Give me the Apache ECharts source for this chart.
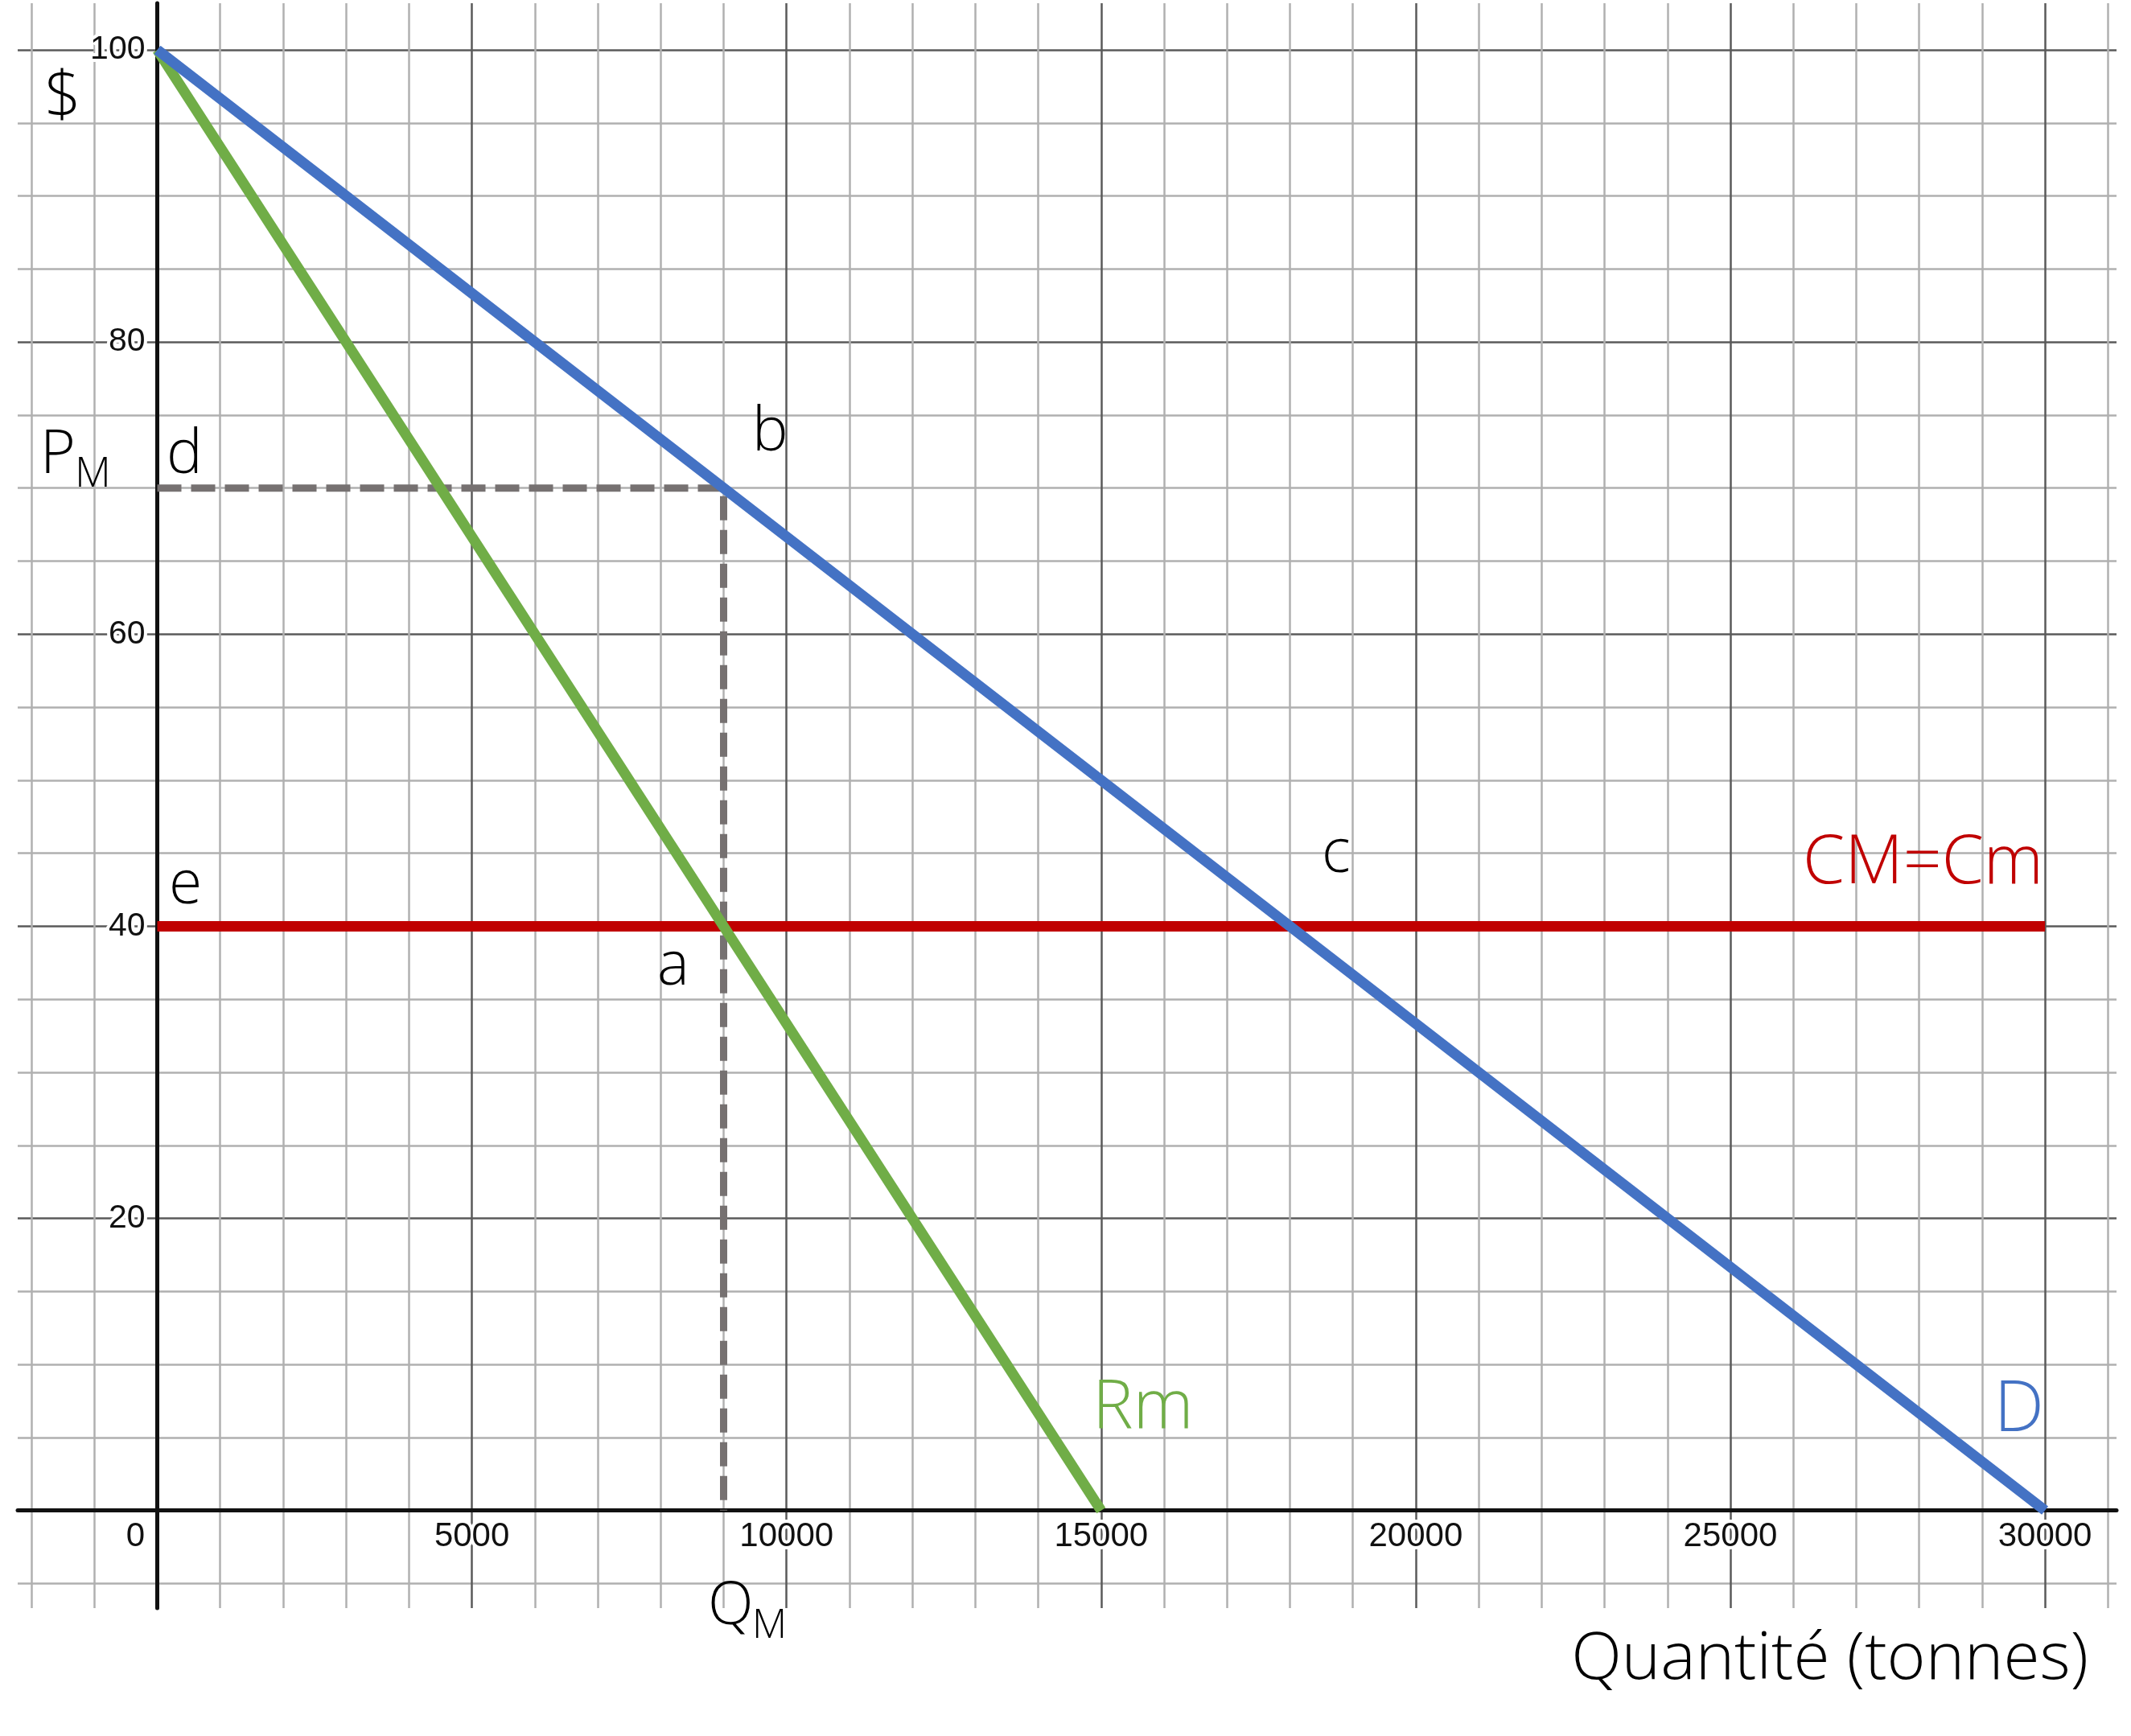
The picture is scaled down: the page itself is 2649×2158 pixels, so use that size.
<!DOCTYPE html>
<html>
<head>
<meta charset="utf-8">
<script src="https://cdn.jsdelivr.net/npm/echarts@6/dist/echarts.min.js"></script>
<style>
html,body{margin:0;padding:0;background:#fff;}
#chart{width:2649px;height:2158px;}
</style>
</head>
<body>
<div id="chart"></div>
<script>
// ---- data ----
const demandX = [0, 30000];
const demandY = [100, 0];
const rmX = [0, 15000];
const rmY = [100, 0];
const cmX = [0, 30000];
const cmY = [40, 40];
const guideX = [0, 9000, 9000];
const guideY = [70, 70, 0];
const xTickLabels = [0, 5000, 10000, 15000, 20000, 25000, 30000];
const yTickLabels = [20, 40, 60, 80, 100];

const zip = (xs, ys) => xs.map((x, i) => [x, ys[i]]);

const MINOR = '#b0b0b0';
const MAJOR = '#5a5a5a';
const FONT = '"Open Sans", sans-serif';
const TICKFONT = '"Liberation Sans", Arial, sans-serif';

const chart = echarts.init(document.getElementById('chart'));

function txt(text, x, y, size, color, align) {
  return {
    type: 'text', x: x, y: y, silent: true, z: 100,
    style: {
      text: text, fill: color || '#000', font: '300 ' + size + 'px ' + FONT,
      textAlign: align || 'left', textVerticalAlign: 'middle'
    }
  };
}

const GL = 39.07, GR = 28.7;          // grid edges for x = -2000 .. 31000
const X0 = 195.5;                     // pixel of x = 0
const Y0 = 1877.7, YB = 1968.5;       // pixel of y = 0 and y = -5

const option = {
  backgroundColor: '#fff',
  animation: false,
  grid: [
    {left: GL, right: GR, top: 4, bottom: 159, outerBoundsMode: 'none', containLabel: false},
    {left: 22, right: 18, top: 62, bottom: 2158 - YB, outerBoundsMode: 'none', containLabel: false},
    {left: GL, right: GR, top: 62, bottom: 2158 - YB, outerBoundsMode: 'none', containLabel: false}
  ],
  xAxis: [
    {
      gridIndex: 0, type: 'value', min: -2000, max: 31000, interval: 1000,
      axisLine: {show: false}, axisTick: {show: false}, axisLabel: {show: false},
      splitLine: {show: true, lineStyle: {width: 2.5, color: [MINOR, MINOR, MAJOR, MINOR, MINOR]}}
    },
    {
      gridIndex: 1, type: 'value', min: 0, max: 1,
      axisLine: {show: true, onZero: true, lineStyle: {color: '#111', width: 5}},
      axisTick: {show: false}, axisLabel: {show: false}, splitLine: {show: false}
    },
    {
      gridIndex: 2, type: 'value', min: -2000, max: 31000, interval: 1000,
      position: 'bottom', offset: -(YB - Y0),
      axisLine: {show: false, onZero: false}, axisTick: {show: false}, splitLine: {show: false},
      axisLabel: {
        show: true, interval: 0, margin: 12, hideOverlap: false,
        fontFamily: TICKFONT, fontSize: 42, color: '#111',
        textBorderColor: '#fff', textBorderWidth: 8,
        formatter: function (v) {
          if (v === 0) return '{z|0}';
          return xTickLabels.indexOf(v) >= 0 ? String(v) : '';
        },
        rich: {z: {fontFamily: TICKFONT, fontSize: 42, color: '#111', padding: [0, 54, 0, 0],
                   textBorderColor: '#fff', textBorderWidth: 8}}
      }
    }
  ],
  yAxis: [
    {
      gridIndex: 0, type: 'value', min: -6.68, max: 103.17,
      axisLine: {show: true, onZero: true, lineStyle: {color: '#111', width: 5}},
      axisTick: {show: false}, axisLabel: {show: false}, splitLine: {show: false}
    },
    {
      gridIndex: 1, type: 'value', min: -5, max: 100, interval: 5,
      axisLine: {show: false}, axisTick: {show: false}, axisLabel: {show: false},
      splitLine: {show: true, lineStyle: {width: 2.5, color: [MINOR, MAJOR, MINOR, MINOR]}}
    },
    {
      gridIndex: 2, type: 'value', min: -5, max: 100, interval: 5,
      position: 'left', offset: -(X0 - GL),
      axisLine: {show: false, onZero: false}, axisTick: {show: false}, splitLine: {show: false},
      axisLabel: {
        show: true, interval: 0, margin: 15, hideOverlap: false,
        fontFamily: TICKFONT, fontSize: 41, color: '#111',
        textBorderColor: '#fff', textBorderWidth: 8,
        formatter: function (v) { return yTickLabels.indexOf(v) >= 0 ? String(v) : ''; }
      }
    }
  ],
  series: [
    {
      name: 'guide', type: 'line', xAxisIndex: 2, yAxisIndex: 2, data: zip(guideX, guideY),
      showSymbol: false, z: 3,
      lineStyle: {color: '#767171', width: 9, type: [30, 12], cap: 'butt'}
    },
    {
      name: 'CM=Cm', type: 'line', xAxisIndex: 2, yAxisIndex: 2, data: zip(cmX, cmY),
      showSymbol: false, z: 4, lineStyle: {color: '#C00000', width: 13, cap: 'butt'}
    },
    {
      name: 'Rm', type: 'line', xAxisIndex: 2, yAxisIndex: 2, data: zip(rmX, rmY),
      showSymbol: false, z: 5, lineStyle: {color: '#70AD47', width: 13, cap: 'butt'}
    },
    {
      name: 'D', type: 'line', xAxisIndex: 2, yAxisIndex: 2, data: zip(demandX, demandY),
      showSymbol: false, z: 6, lineStyle: {color: '#4472C4', width: 13, cap: 'butt'}
    }
  ],
  graphic: [
    txt('$', 78, 122, 80),
    txt('P', 50, 567, 75),
    txt('M', 93, 590, 52),
    txt('d', 207, 567, 75),
    txt('b', 935, 539, 75),
    txt('e', 210, 1102, 75),
    txt('a', 817, 1203, 75),
    txt('c', 1643, 1063, 75),
    txt('CM=Cm', 2540, 1074, 84, '#C00000', 'right'),
    txt('Rm', 1358, 1751, 85, '#70AD47'),
    txt('D', 2541, 1754, 88, '#4472C4', 'right'),
    txt('Q', 880, 1998, 74),
    txt('M', 935, 2022, 50),
    txt('Quantité (tonnes)', 2596, 2064, 82, '#000', 'right')
  ]
};
option.graphic[0].style.textAlign = 'center';
chart.setOption(option);
</script>
</body>
</html>
